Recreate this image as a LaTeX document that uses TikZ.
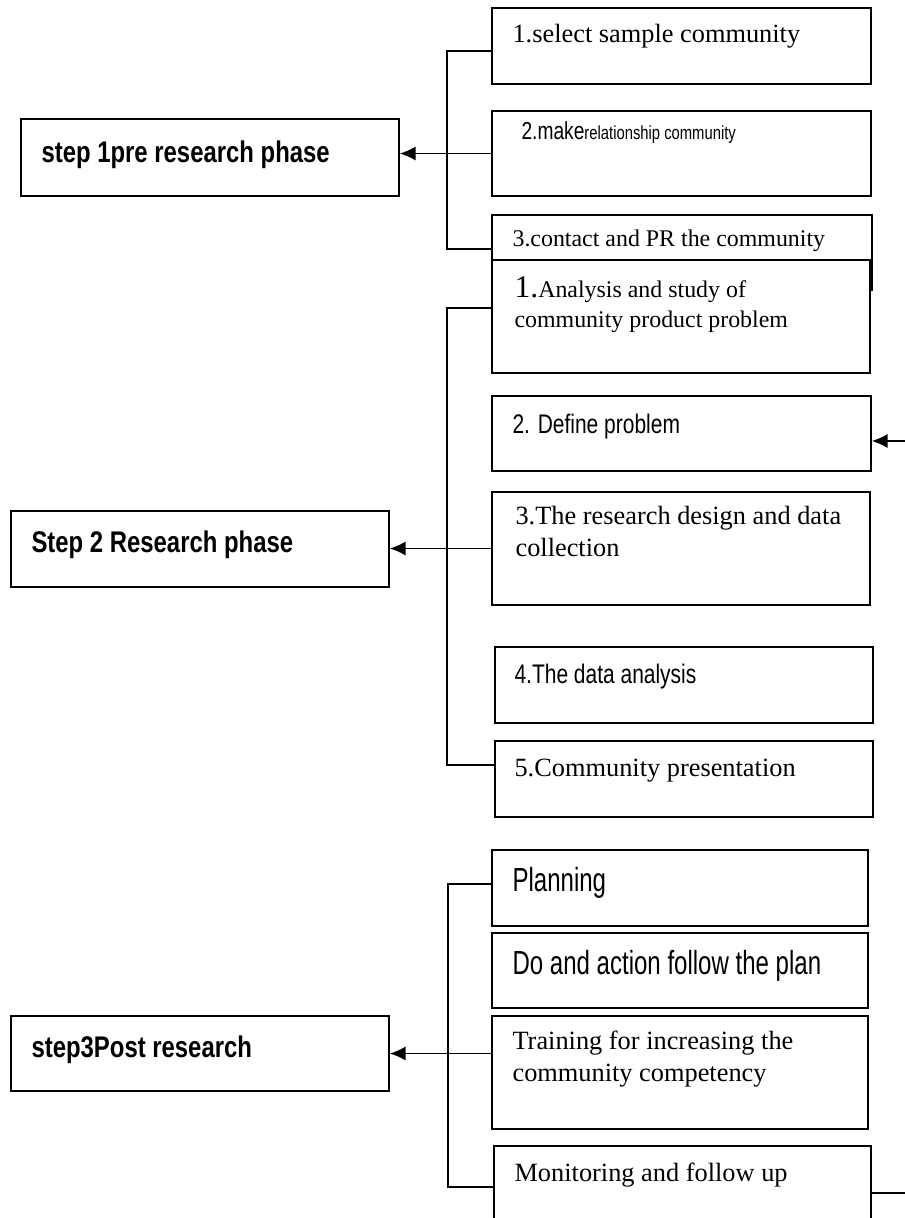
\documentclass[tikz,border=0pt]{standalone}
\usepackage{fontspec}
\setmainfont{Liberation Serif}
\newfontfamily\stepsf[FakeStretch=0.8]{Liberation Sans}
\newfontfamily\narrowsf[FakeStretch=0.78]{Liberation Sans}
\newfontfamily\tallsf[FakeStretch=0.72]{Liberation Sans}
\usepackage{tikz}
\usetikzlibrary{positioning,fit,arrows.meta}

\begin{document}
\begin{tikzpicture}[x=0.02cm,y=-0.02cm,>={Latex[length=9pt,width=8pt]},
    box/.style={draw,line width=0.9pt,inner sep=0pt,fill=white},
    link/.style={draw,line width=0.8pt},
    txt/.style={inner sep=0pt,anchor=base west,align=left},
    steptxt/.style={txt,font=\stepsf\bfseries\fontsize{17}{20}\selectfont},
    serif/.style={txt,font=\fontsize{15}{18}\selectfont},
    smallserif/.style={txt,font=\fontsize{13.6}{17}\selectfont},
    narrow/.style={txt,font=\narrowsf\fontsize{15.3}{18}\selectfont},
    bignarrow/.style={txt,font=\tallsf\fontsize{19}{22}\selectfont}]
    \useasboundingbox (0,0) rectangle (905,1218);
    \clip (0,0) rectangle (905,1218);

    % step boxes
    \node[box, fit={(21,119) (399,196)}] (s1) {};
    \node[box, fit={(11,511) (389,587)}] (s2) {};
    \node[box, fit={(11,1016) (389,1091)}] (s3) {};
    \node[steptxt] (s1t) at ([shift={(21,44)}]s1.north west) {step 1pre research phase};
    \node[steptxt] (s2t) at ([shift={(21,42)}]s2.north west) {Step 2 Research phase};
    \node[steptxt] (s3t) at ([shift={(21,42)}]s3.north west) {step3Post research};

    % pre research tasks
    \node[box, fit={(492,8) (871,84)}] (a1) {};
    \node[box, fit={(492,111) (871,196)}] (a2) {};
    \node[box, fit={(492,215) (872,290)}] (a3) {};
    \node[serif] (a1t) at ([shift={(21,35)}]a1.north west) {1.select sample community};
    \node[narrow] (a2t) at ([shift={(30,29)}]a2.north west)
        {{\fontsize{14}{16}\selectfont 2.make}{\fontsize{10.8}{13}\selectfont relationship community}};
    \node[smallserif] (a3t) at ([shift={(21,32)}]a3.north west) {3.contact and PR the community};

    % research tasks
    \node[box, fit={(492,260) (870,373)}] (b1) {};
    \node[box, fit={(492,396) (871,471)}] (b2) {};
    \node[box, fit={(492,492) (870,605)}] (b3) {};
    \node[box, fit={(495,647) (873,723)}] (b4) {};
    \node[box, fit={(495,741) (873,817)}] (b5) {};
    \node[smallserif] (b1t) at ([shift={(23,68)}]b1.north west)
        {{\fontsize{18}{17}\selectfont 1.}Analysis and study of\\community product problem};
    \node[narrow] (b2t) at ([shift={(21,38)}]b2.north west) {2. Define problem};
    \node[serif] (b3t) at ([shift={(24,65)}]b3.north west) {3.The research design and data\\collection};
    \node[narrow] (b4t) at ([shift={(20,37)}]b4.north west) {4.The data analysis};
    \node[serif] (b5t) at ([shift={(20,36)}]b5.north west) {5.Community presentation};

    % post research tasks
    \node[box, fit={(492,850) (868,926)}] (c1) {};
    \node[box, fit={(492,933) (868,1008)}] (c2) {};
    \node[box, fit={(492,1016) (868,1129)}] (c3) {};
    \node[box, fit={(494,1146) (871,1240)}] (c4) {};
    \node[bignarrow] (c1t) at ([shift={(21,42)}]c1.north west) {Planning};
    \node[bignarrow] (c2t) at ([shift={(21,42)}]c2.north west) {Do and action follow the plan};
    \node[serif] (c3t) at ([shift={(21,66)}]c3.north west) {Training for increasing the\\community competency};
    \node[serif] (c4t) at ([shift={(21,36)}]c4.north west) {Monitoring and follow up};

    % brackets and arrows for step 1
    \coordinate (k1a) at (447,51);
    \coordinate (k1b) at (447,249);
    \path[link] (k1a -| a1.west) -- (k1a) -- (k1b) -- (k1b -| a3.west);
    \path[link,->] (a2.west) -- (a2.west -| s1.east);
    % brackets and arrows for step 2
    \coordinate (k2a) at (447,308);
    \coordinate (k2b) at (447,765);
    \coordinate (k2r) at (905,441);
    \path[link] (k2a -| b1.west) -- (k2a) -- (k2b) -- (k2b -| b5.west);
    \path[link,->] (b3.west) -- (b3.west -| s2.east);
    \path[link,->] (k2r) -- (k2r -| b2.east);
    % brackets and arrows for step 3
    \coordinate (k3a) at (448,884);
    \coordinate (k3b) at (448,1187);
    \coordinate (k3r) at (905,1193);
    \path[link] (k3a -| c1.west) -- (k3a) -- (k3b) -- (k3b -| c4.west);
    \path[link,->] (s3.east -| c3.west) -- (s3.east);
    \path[link] (k3r -| c4.east) -- (k3r);
\end{tikzpicture}
\end{document}
